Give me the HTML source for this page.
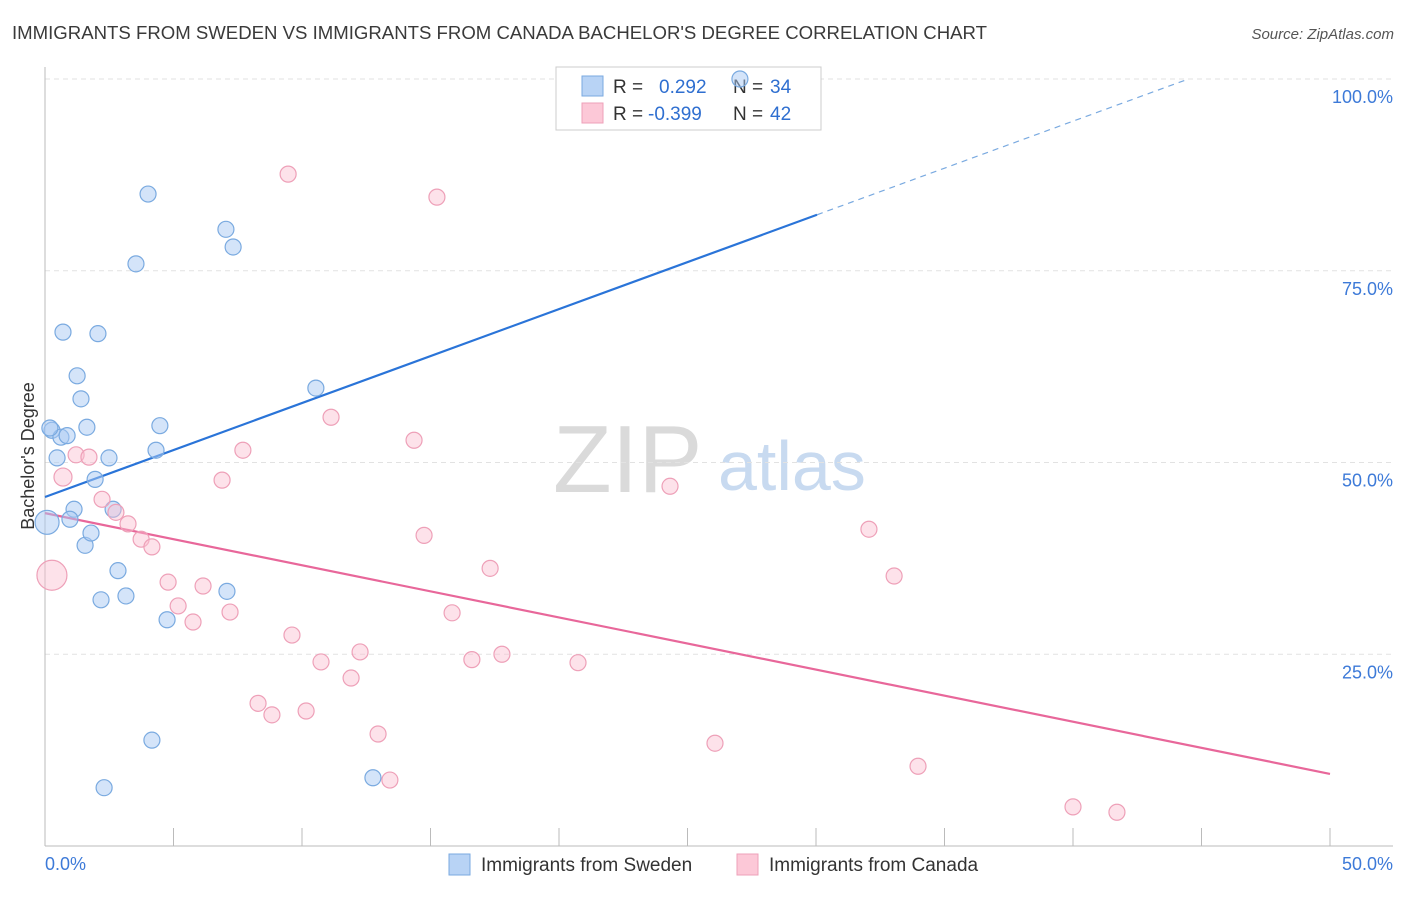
<!DOCTYPE html>
<html><head><meta charset="utf-8">
<style>
body{margin:0;background:#fff;font-family:"Liberation Sans",sans-serif;}
svg text{font-family:"Liberation Sans",sans-serif;}
</style></head>
<body>
<svg id="chart" width="1406" height="892" viewBox="0 0 1406 892" xmlns="http://www.w3.org/2000/svg">
<text x="12" y="39" font-size="18.6" fill="#3a3a3a">IMMIGRANTS FROM SWEDEN VS IMMIGRANTS FROM CANADA BACHELOR'S DEGREE CORRELATION CHART</text>
<text x="1394" y="39" font-size="15" fill="#555" font-style="italic" text-anchor="end">Source: ZipAtlas.com</text>
<g>
<text x="553" y="492" font-size="96" fill="#dadada">ZIP</text>
<text x="718" y="490" font-size="70" fill="#c8daf0">atlas</text>
</g>
<g id="grid"></g>
<g id="axes"></g>
<g>
<rect x="556" y="67" width="265" height="63" fill="#fff" stroke="#ccc"/>
<rect x="582" y="76" width="21" height="20" fill="#b8d3f5" stroke="#7aaae0"/>
<rect x="582" y="103" width="21" height="20" fill="#fcc8d7" stroke="#eea0b8"/>
<text x="613" y="93" font-size="19" fill="#333">R = </text><text x="659" y="93" font-size="19" fill="#2f6fd0">0.292</text>
<text x="733" y="93" font-size="19" fill="#333">N = </text><text x="770" y="93" font-size="19" fill="#2f6fd0">34</text>
<text x="613" y="120" font-size="19" fill="#333">R = </text><text x="648" y="120" font-size="19" fill="#2f6fd0">-0.399</text>
<text x="733" y="120" font-size="19" fill="#333">N = </text><text x="770" y="120" font-size="19" fill="#2f6fd0">42</text>
</g>
<g id="lines"></g>
<g id="points"></g>
<g>
<rect x="449" y="854" width="21" height="21" fill="#b8d3f5" stroke="#7aaae0"/>
<text x="481" y="871" font-size="19" fill="#333">Immigrants from Sweden</text>
<rect x="737" y="854" width="21" height="21" fill="#fcc8d7" stroke="#eea0b8"/>
<text x="769" y="871" font-size="19" fill="#333">Immigrants from Canada</text>
</g>
<text transform="translate(34,456) rotate(-90)" font-size="18" fill="#333" text-anchor="middle">Bachelor's Degree</text>
</svg>
<script>
const swedenX=[0.08,0.27,0.47,0.62,0.86,0.70,1.25,1.40,1.63,1.13,0.97,1.56,1.79,1.95,2.06,2.49,2.65,2.18,2.84,3.15,4.01,3.54,4.47,4.32,4.75,4.16,2.30,7.04,7.32,7.08,10.54,12.76,27.04,0.19];
const swedenY=[42.2,54.2,50.6,53.3,53.5,67.0,61.3,58.3,54.6,43.9,42.6,39.2,40.8,47.8,66.8,50.6,43.9,32.1,35.9,32.6,85.0,75.9,54.8,51.6,29.5,13.8,7.6,80.4,78.1,33.2,59.7,8.9,100,54.5];
const swedenR=[12,8,8,8,8,8,8,8,8,8,8,8,8,8,8,8,8,8,8,8,8,8,8,8,8,8,8,8,8,8,8,8,8,8];
const canadaX=[0.27,0.70,1.21,1.71,2.22,2.76,3.23,3.74,4.16,4.79,5.18,5.76,6.15,6.89,7.20,7.70,8.29,8.83,9.46,9.61,10.16,10.74,11.13,11.91,12.26,12.96,13.42,14.36,14.75,15.25,15.84,16.61,17.32,17.78,20.74,24.32,26.07,32.06,33.04,33.97,40.0,41.71];
const canadaY=[35.3,48.1,51.0,50.7,45.2,43.5,42.0,40.0,39.0,34.4,31.3,29.2,33.9,47.7,30.5,51.6,18.6,17.1,87.6,27.5,17.6,24.0,55.9,21.9,25.3,14.6,8.6,52.9,40.5,84.6,30.4,24.3,36.2,25.0,23.9,46.9,13.4,41.3,35.2,10.4,5.1,4.4];
const canadaR=[15,9,8,8,8,8,8,8,8,8,8,8,8,8,8,8,8,8,8,8,8,8,8,8,8,8,8,8,8,8,8,8,8,8,8,8,8,8,8,8,8,8];
const trendIntercept=[45.5,43.4];
const trendSlope=[1.225,-0.680];
const yTicks=[25,50,75,100];
const yTickLabels=["25.0%","50.0%","75.0%","100.0%"];
const xTicks=[0,5,10,15,20,25,30,35,40,45,50];
const xTickLabels=["0.0%","50.0%"];

const NS="http://www.w3.org/2000/svg";
const X0=45,X1=1330,Y0=846,Y100=79;
const xs=v=>X0+(X1-X0)*v/50;
const ys=v=>Y0-(Y0-Y100)*v/100;
function mk(tag,attrs,parent){const e=document.createElementNS(NS,tag);for(const k in attrs)e.setAttribute(k,attrs[k]);parent.appendChild(e);return e;}
const grid=document.getElementById('grid'),axes=document.getElementById('axes'),lines=document.getElementById('lines'),pts=document.getElementById('points');
yTicks.forEach((t,i)=>{
  const l=mk('line',{x1:X0,x2:1393,y1:ys(t),y2:ys(t),stroke:'#e2e2e2','stroke-dasharray':'5,4'},grid);
  
  
  const tx=mk('text',{x:1393,y:ys(t)+24,'font-size':18,fill:'#3d7ad8','text-anchor':'end'},axes);
  tx.textContent=yTickLabels[i];
  
  
});
const ax=mk('line',{x1:X0,x2:1393,y1:Y0,y2:Y0,stroke:'#bbb'},axes);


const ay=mk('line',{x1:X0,x2:X0,y1:67,y2:Y0,stroke:'#bbb'},axes);


xTicks.forEach(t=>{
  const l=mk('line',{x1:xs(t),x2:xs(t),y1:828,y2:Y0,stroke:'#bbb'},axes);
  
  
});
const xl0=mk('text',{x:45,y:870,'font-size':18,fill:'#3d7ad8'},axes);xl0.textContent=xTickLabels[0];


const xl1=mk('text',{x:1393,y:870,'font-size':18,fill:'#3d7ad8','text-anchor':'end'},axes);xl1.textContent=xTickLabels[1];



function drawPts(X,Y,R,fill,stroke,name){
  X.forEach((x,i)=>{
    const c=mk('circle',{cx:xs(x),cy:ys(Y[i]),r:R[i],fill:fill,stroke:stroke,'stroke-width':1.2},pts);
    
    
  });
}
drawPts(swedenX,swedenY,swedenR,'rgba(170,202,244,0.5)','#7aaae0','sweden-point');
drawPts(canadaX,canadaY,canadaR,'rgba(250,190,208,0.45)','#eea0b8','canada-point');

const bf=x=>trendIntercept[0]+trendSlope[0]*x;
const bSolidEnd=30.04,bDashEnd=(100-trendIntercept[0])/trendSlope[0];
const b1=mk('line',{x1:xs(0),y1:ys(bf(0)),x2:xs(bSolidEnd),y2:ys(bf(bSolidEnd)),stroke:'#2a74d8','stroke-width':2.2},lines);


const b2=mk('line',{x1:xs(bSolidEnd),y1:ys(bf(bSolidEnd)),x2:xs(bDashEnd),y2:ys(bf(bDashEnd)),stroke:'#7aaae0','stroke-width':1.2,'stroke-dasharray':'6,5'},lines);


const pf=x=>trendIntercept[1]+trendSlope[1]*x;
const p1=mk('line',{x1:xs(0),y1:ys(pf(0)),x2:xs(50),y2:ys(pf(50)),stroke:'#e8679a','stroke-width':2.2},lines);


</script>
</body></html>
